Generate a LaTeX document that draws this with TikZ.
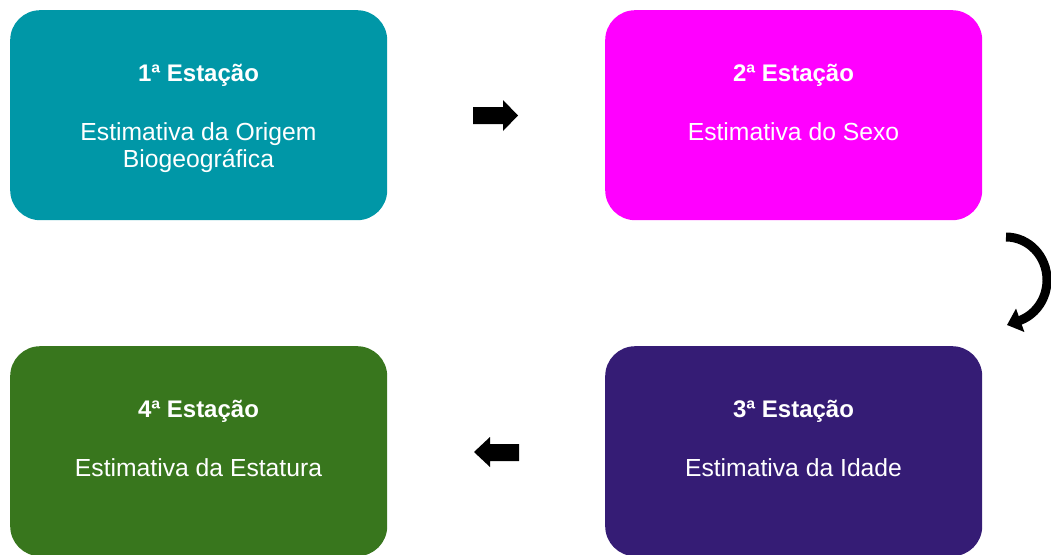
\documentclass[tikz,border=0pt]{standalone}
\usepackage{fontspec}
\setmainfont{Liberation Sans}
\usetikzlibrary{arrows.meta}
\definecolor{cteal}{HTML}{0097A7}
\definecolor{cmag}{HTML}{FF00FF}
\definecolor{cpurp}{HTML}{351C75}
\definecolor{cgreen}{HTML}{38761D}
\begin{document}
\begin{tikzpicture}[x=1pt,y=-1pt,
  stationbox/.style={draw=none, rounded corners=30pt, minimum width=377pt, minimum height=210pt, inner sep=0pt, anchor=north west},
  titletext/.style={text=white, font=\bfseries\fontsize{24}{28}\selectfont, anchor=base, inner sep=0pt},
  bodytext/.style={text=white, font=\fontsize{24.7}{28}\selectfont, anchor=base, inner sep=0pt},
  blockarrow/.style={fill=black, draw=none}]
\useasboundingbox (0,0) rectangle (1051,554);
% boxes
\node[stationbox, fill=cteal]  (b1) at (10,10) {};
\node[stationbox, fill=cmag]   (b2) at (605,10) {};
\node[stationbox, fill=cpurp]  (b3) at (605,346) {};
\node[stationbox, fill=cgreen] (b4) at (10,346) {};
% texts
\node[titletext] (t1) at (198.5,81) {1ª Estação};
\node[bodytext] (l1a) at (198.5,140) {Estimativa da Origem};
\node[bodytext] (l1b) at (198.5,167.5) {Biogeográfica};
\node[titletext] (t2) at (793.5,81) {2ª Estação};
\node[bodytext] (l2) at (793.5,140) {Estimativa do Sexo};
\node[titletext] (t3) at (793.5,417) {3ª Estação};
\node[bodytext] (l3) at (793.5,476) {Estimativa da Idade};
\node[titletext] (t4) at (198.5,417) {4ª Estação};
\node[bodytext] (l4) at (198.5,476) {Estimativa da Estatura};
% block arrows
\coordinate (ra) at (473,115.5);
\fill[blockarrow] (ra) ++(0,-8.5) -- ++(30,0) -- ++(0,-7) -- ++(15,15.5) -- ++(-15,15.5) -- ++(0,-7) -- ++(-30,0) -- cycle;
\coordinate (la) at (519,452.5);
\fill[blockarrow] (la) ++(0,-8.5) -- ++(-29,0) -- ++(0,-7) -- ++(-16,15) -- ++(16,15) -- ++(0,-6) -- ++(29,0) -- cycle;
% curved arrow
\coordinate (cs) at (1006,237);
\coordinate (ce) at (1007,325);
\draw[line width=9pt, -{Triangle[width=24pt,length=14pt]}] (cs) arc[start angle=-90, end angle=68, x radius=41, y radius=43] -- (ce);
\end{tikzpicture}
\end{document}
